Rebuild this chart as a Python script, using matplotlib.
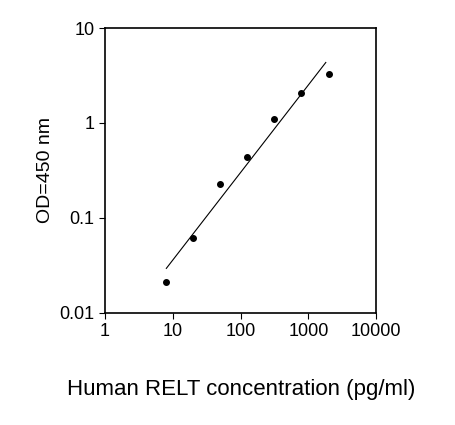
import numpy as np
import matplotlib.pyplot as plt
from matplotlib.ticker import FixedLocator, FixedFormatter, NullLocator

conc = [8, 20, 50, 125, 312, 780, 2000]
od = [0.021, 0.062, 0.23, 0.44, 1.1, 2.05, 3.3]
x_ticks = [1, 10, 100, 1000, 10000]
x_tick_labels = ['1', '10', '100', '1000', '10000']
y_ticks = [0.01, 0.1, 1, 10]
y_tick_labels = ['0.01', '0.1', '1', '10']

plt.rcParams['font.family'] = ['Liberation Sans', 'DejaVu Sans']
fig = plt.figure(figsize=(4.55, 4.25), dpi=100)
ax = fig.add_axes([0.231, 0.264, 0.596, 0.67])

# straight fit in log-log space
k, b = np.polyfit(np.log10(conc), np.log10(od), 1)
fx = np.array([8, 1800])
ax.plot(fx, 10 ** (k * np.log10(fx) + b), color='black', lw=0.8)
ax.scatter(conc, od, s=16, color='black', zorder=3)

ax.set_xscale('log')
ax.set_yscale('log')
ax.set_xlim(1, 10000)
ax.set_ylim(0.01, 10)
ax.xaxis.set_major_locator(FixedLocator(x_ticks))
ax.xaxis.set_major_formatter(FixedFormatter(x_tick_labels))
ax.yaxis.set_major_locator(FixedLocator(y_ticks))
ax.yaxis.set_major_formatter(FixedFormatter(y_tick_labels))
ax.xaxis.set_minor_locator(NullLocator())
ax.yaxis.set_minor_locator(NullLocator())
ax.tick_params(direction='out', length=4, labelsize=13)
for s in ax.spines.values():
    s.set_linewidth(1.2)
ax.set_ylabel('OD=450 nm', fontsize=14)
ax.set_xlabel('Human RELT concentration (pg/ml)', fontsize=16, labelpad=28)

fig.savefig('out.png', dpi=100)
